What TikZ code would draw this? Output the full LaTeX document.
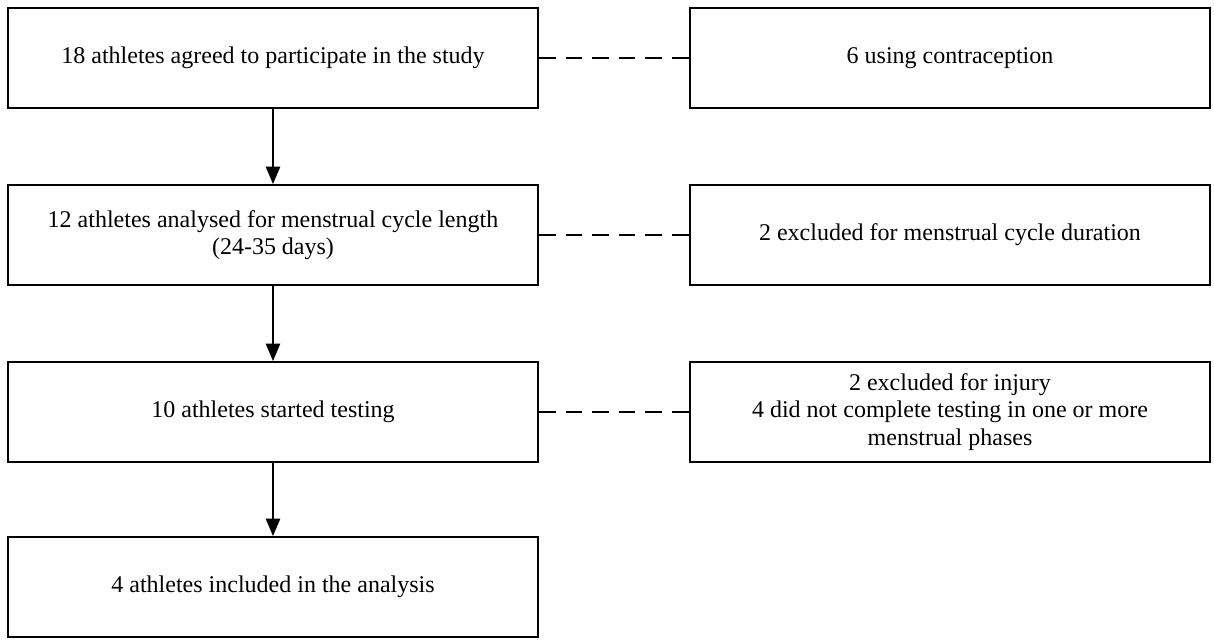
\documentclass[tikz,border=0pt]{standalone}
\usepackage{fontspec}
\setmainfont{Liberation Serif}
\usetikzlibrary{calc}
\usetikzlibrary{arrows}

\begin{document}
\begin{tikzpicture} [x=.5pt,y=-.5pt]
\tikzset{box/.style={draw, black, line width=1pt, minimum width=265pt, minimum height=50pt, inner sep=0pt, align=center, font=\fontsize{12}{13.8}\selectfont},
 sidebox/.style={box, minimum width=260pt},
 flow/.style={black, line width=1pt, ->, >=triangle 45},
 drop/.style={black, line width=1pt, dash pattern=on 8.3pt off 5pt}}
\useasboundingbox (0,0) rectangle (1214,640);

\node[box] (agreed) at (273,58) {18 athletes agreed to participate in the study};
\node[box] (analysed) at (273,235) {12 athletes analysed for menstrual cycle length\\(24-35 days)};
\node[box] (started) at (273,412) {10 athletes started testing};
\node[box] (included) at (273,587) {4 athletes included in the analysis};

\node[sidebox] (contra) at (950,58) {6 using contraception};
\node[sidebox] (duration) at (950,235) {2 excluded for menstrual cycle duration};
\node[sidebox] (injury) at (950,412) {2 excluded for injury\\4 did not complete testing in one or more\\menstrual phases};

\draw[flow] (agreed) -- (analysed);
\draw[flow] (analysed) -- (started);
\draw[flow] (started) -- (included);

\foreach \a/\b in {agreed/contra, analysed/duration, started/injury} {
 \draw[drop] (\a.east) -- (\b.west);
}
\end{tikzpicture}
\end{document}
